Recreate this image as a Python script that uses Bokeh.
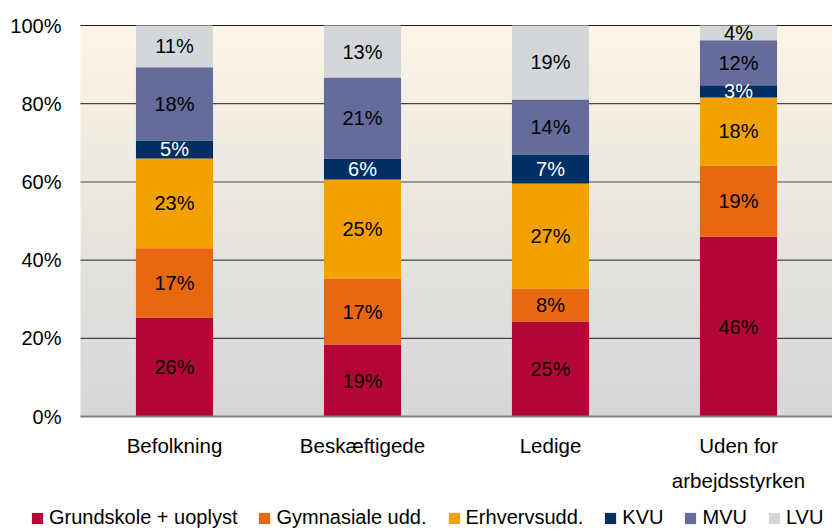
import numpy as np
from bokeh.plotting import figure
from bokeh.models import Range1d, Legend, LegendItem, ColumnDataSource
from bokeh.core.properties import value
from bokeh.embed import file_html
from bokeh.resources import INLINE

categories = ["Befolkning", "Beskæftigede", "Ledige", "Uden for\narbejdsstyrken"]
series = ["Grundskole + uoplyst", "Gymnasiale udd.", "Erhvervsudd.", "KVU", "MVU", "LVU"]
colors = ["#B30637", "#E8680F", "#F4A000", "#002F64", "#656B9A", "#D4D7D9"]
label_colors = ["black", "black", "black", "white", "black", "black"]

# shares (%) per category, in series order (heights)
grundskole = [25.3, 18.4, 24.3, 46.0]
gymnasiale = [17.7, 16.9, 8.4, 18.2]
erhverv = [23.0, 25.3, 26.9, 17.4]
kvu = [4.6, 5.4, 7.4, 3.1]
mvu = [18.7, 20.7, 14.1, 11.5]
lvu = [10.7, 13.3, 18.9, 3.8]

# labels as printed in the chart
lab_grundskole = ["26%", "19%", "25%", "46%"]
lab_gymnasiale = ["17%", "17%", "8%", "19%"]
lab_erhverv = ["23%", "25%", "27%", "18%"]
lab_kvu = ["5%", "6%", "7%", "3%"]
lab_mvu = ["18%", "21%", "14%", "12%"]
lab_lvu = ["11%", "13%", "19%", "4%"]

y_ticks = [0, 20, 40, 60, 80, 100]
y_tick_labels = ["0%", "20%", "40%", "60%", "80%", "100%"]

values = [grundskole, gymnasiale, erhverv, kvu, mvu, lvu]
labels = [lab_grundskole, lab_gymnasiale, lab_erhverv, lab_kvu, lab_mvu, lab_lvu]

ncat = len(categories)
xpos = [i + 0.5 for i in range(ncat)]
FONT = "Liberation Sans"

# geometry (pixels): plot area from x=80 to 832, y=25 (100%) to 416 (0%)
W, H = 832, 530
left_px, top_px, bottom_px = 80, 25, 416
ppx = (W - left_px) / ncat          # px per category
ppy = (bottom_px - top_px) / 100.0  # px per percent

p = figure(frame_width=W, frame_height=H, output_backend="svg", toolbar_location=None,
           x_range=Range1d(-left_px / ppx, ncat),
           y_range=Range1d(-(H - bottom_px) / ppy, 100 + top_px / ppy),
           min_border=0, x_axis_type=None, y_axis_type=None)
p.outline_line_color = None
p.background_fill_color = "white"
p.border_fill_color = "white"
p.xgrid.visible = False
p.ygrid.visible = False

# vertical gradient background of the plot area
n = 256
t = np.linspace(0, 1, n)
bottom_c = np.array([213, 215, 216])
top_c = np.array([253, 245, 231])
img = np.empty((n, 1), dtype=np.uint32)
view = img.view(dtype=np.uint8).reshape((n, 1, 4))
for i in range(n):
    c = bottom_c + (top_c - bottom_c) * t[i]
    view[i, 0, 0:3] = c.astype(np.uint8)
    view[i, 0, 3] = 255
p.image_rgba(image=[img], x=0, y=0, dw=ncat, dh=100, level="image")

# horizontal grid lines (60% and base line drawn grey)
grid_dark = [v for v in y_ticks if v not in (0, 60)]
p.segment(x0=[0] * len(grid_dark), x1=[ncat] * len(grid_dark), y0=grid_dark, y1=grid_dark,
          line_color="#1e1e1e", line_width=1, level="underlay")
p.segment(x0=[0], x1=[ncat], y0=[60], y1=[60], line_color="#7f7f7f", line_width=1.5,
          level="underlay")

# stacked bars
data = {"x": xpos}
for s, v in zip(series, values):
    data[s] = v
src = ColumnDataSource(data)
renderers = p.vbar_stack(series, x="x", width=0.41, color=colors, source=src, line_width=0)

# x axis base line
p.segment(x0=[0], x1=[ncat], y0=[0], y1=[0], line_color="#808080", line_width=2)

# labels in segment centres
for k, (v, lab) in enumerate(zip(values, labels)):
    base = [sum(values[j][i] for j in range(k)) for i in range(ncat)]
    ys = [b + vv / 2 for b, vv in zip(base, v)]
    p.text(x=xpos, y=ys, text=lab, text_align="center", text_baseline="middle",
           text_font=value(FONT), text_font_size="20px", text_color=label_colors[k])

# y tick labels
p.text(x=[0] * len(y_ticks), y=y_ticks, text=y_tick_labels, x_offset=-19,
       text_align="right", text_baseline="middle",
       text_font=value(FONT), text_font_size="20px", text_color="black")

# category labels
p.text(x=xpos, y=[0] * ncat, text=categories, y_offset=17,
       text_align="center", text_baseline="top", text_line_height=1.55,
       text_font=value(FONT), text_font_size="20.5px", text_color="black")

legend = Legend(items=[LegendItem(label=s, renderers=[r]) for s, r in zip(series, renderers)],
                orientation="horizontal", location=(30, 1),
                label_text_font=FONT, label_text_font_size="20px", label_text_color="black",
                glyph_width=14, glyph_height=14, label_standoff=5, spacing=20,
                padding=0, margin=0, border_line_color=None, background_fill_alpha=0)
p.add_layout(legend, "center")

open("out.html", "w").write(file_html(p, INLINE))
